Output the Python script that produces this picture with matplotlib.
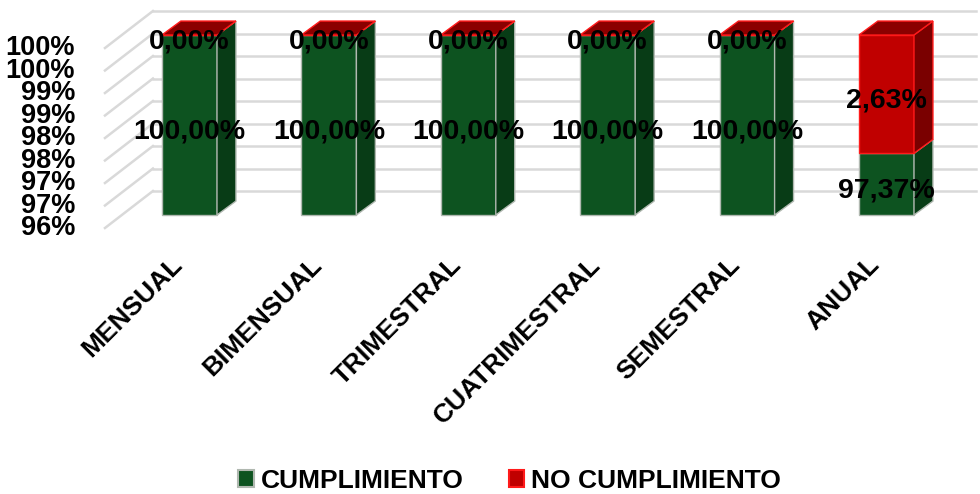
import numpy as np
import matplotlib.pyplot as plt
from matplotlib.patches import Polygon, Patch

# --- data ---
categories = ['MENSUAL', 'BIMENSUAL', 'TRIMESTRAL', 'CUATRIMESTRAL', 'SEMESTRAL', 'ANUAL']
cumplimiento = [100.00, 100.00, 100.00, 100.00, 100.00, 97.37]
no_cumplimiento = [0.00, 0.00, 0.00, 0.00, 0.00, 2.63]
series_names = ['CUMPLIMIENTO', 'NO CUMPLIMIENTO']
y_ticks = [96, 96.5, 97, 97.5, 98, 98.5, 99, 99.5, 100]
y_tick_labels = ['96%', '97%', '97%', '98%', '98%', '99%', '99%', '100%', '100%']
y_min = 96

# --- style ---
plt.rcParams['font.family'] = ['Liberation Sans', 'DejaVu Sans']
plt.rcParams['font.weight'] = 'bold'

colors = [
    # front, side, top, edge
    ('#0d5320', '#083c16', '#0a4419', '#b0b8b0'),
    ('#c00000', '#7a0000', '#8b0000', '#ff1a1a'),
]

BAR_W = 0.395
DX, DY = 0.136, 0.31          # bar depth
WALL_BACK = (-0.262, 0.533)   # back wall offset (x start, y shift)
WALL_FRONT = (-0.606, -0.289) # left wall front edge
WALL_RIGHT = 5.64
GRID = '#d9d9d9'


def bar3d(ax, x, y0, y1, style, draw_top):
    front, side, top, edge = style
    w = BAR_W / 2
    ax.add_patch(Polygon([(x - w, y0), (x + w, y0), (x + w, y1), (x - w, y1)],
                         fc=front, ec=edge, lw=1, zorder=3))
    ax.add_patch(Polygon([(x + w, y0), (x + w + DX, y0 + DY), (x + w + DX, y1 + DY), (x + w, y1)],
                         fc=side, ec=edge, lw=1, zorder=3))
    if draw_top:
        ax.add_patch(Polygon([(x - w, y1), (x + w, y1), (x + w + DX, y1 + DY), (x - w + DX, y1 + DY)],
                             fc=top, ec=edge, lw=1, zorder=3))


fig = plt.figure(figsize=(9.8, 4.94), dpi=100)
ax = fig.add_axes([0, 0, 1, 1])
ax.set_xlim(-1.359, 5.671)
ax.set_ylim(89.8, 100.778)
ax.axis('off')

# walls: back wall lines and left wall diagonals
for t in y_ticks:
    ax.plot([WALL_BACK[0], WALL_RIGHT], [t + WALL_BACK[1]] * 2, color=GRID, lw=1.8, zorder=1)
    ax.plot([WALL_FRONT[0], WALL_BACK[0]], [t + WALL_FRONT[1], t + WALL_BACK[1]],
            color=GRID, lw=1.8, zorder=1)

for t, lab in zip(y_ticks, y_tick_labels):
    ax.text(-0.82, t + WALL_FRONT[1], lab, ha='right', va='center', fontsize=19.5, zorder=5)

x = np.arange(len(categories))
series = [cumplimiento, no_cumplimiento]
bottom = np.zeros(len(categories))
for s, vals in enumerate(series):
    top_vals = bottom + np.array(vals)
    for i in range(len(categories)):
        y0 = max(bottom[i], y_min)
        y1 = max(top_vals[i], y_min)
        bar3d(ax, x[i], y0, y1, colors[s], draw_top=(s == len(series) - 1))
        ax.text(x[i], (y0 + y1) / 2 - 0.14, f'{vals[i]:.2f}%'.replace('.', ','),
                ha='center', va='center', fontsize=20.5, zorder=6)
    bottom = top_vals

for i, cat in enumerate(categories):
    ax.text(x[i] - 0.04, 94.87, cat, rotation=45, rotation_mode='anchor',
            ha='right', va='baseline', fontsize=19)

handles = [Patch(fc=colors[0][0], ec='#b0b8b0', lw=1.5),
           Patch(fc=colors[1][0], ec='#ff1a1a', lw=1.5)]
fig.legend(handles, series_names, loc='center', bbox_to_anchor=(0.52, 0.027),
           ncol=2, frameon=False, fontsize=19, handlelength=0.6, handleheight=0.6,
           handletextpad=0.25, columnspacing=1.7)

fig.savefig('out.png', dpi=100)
